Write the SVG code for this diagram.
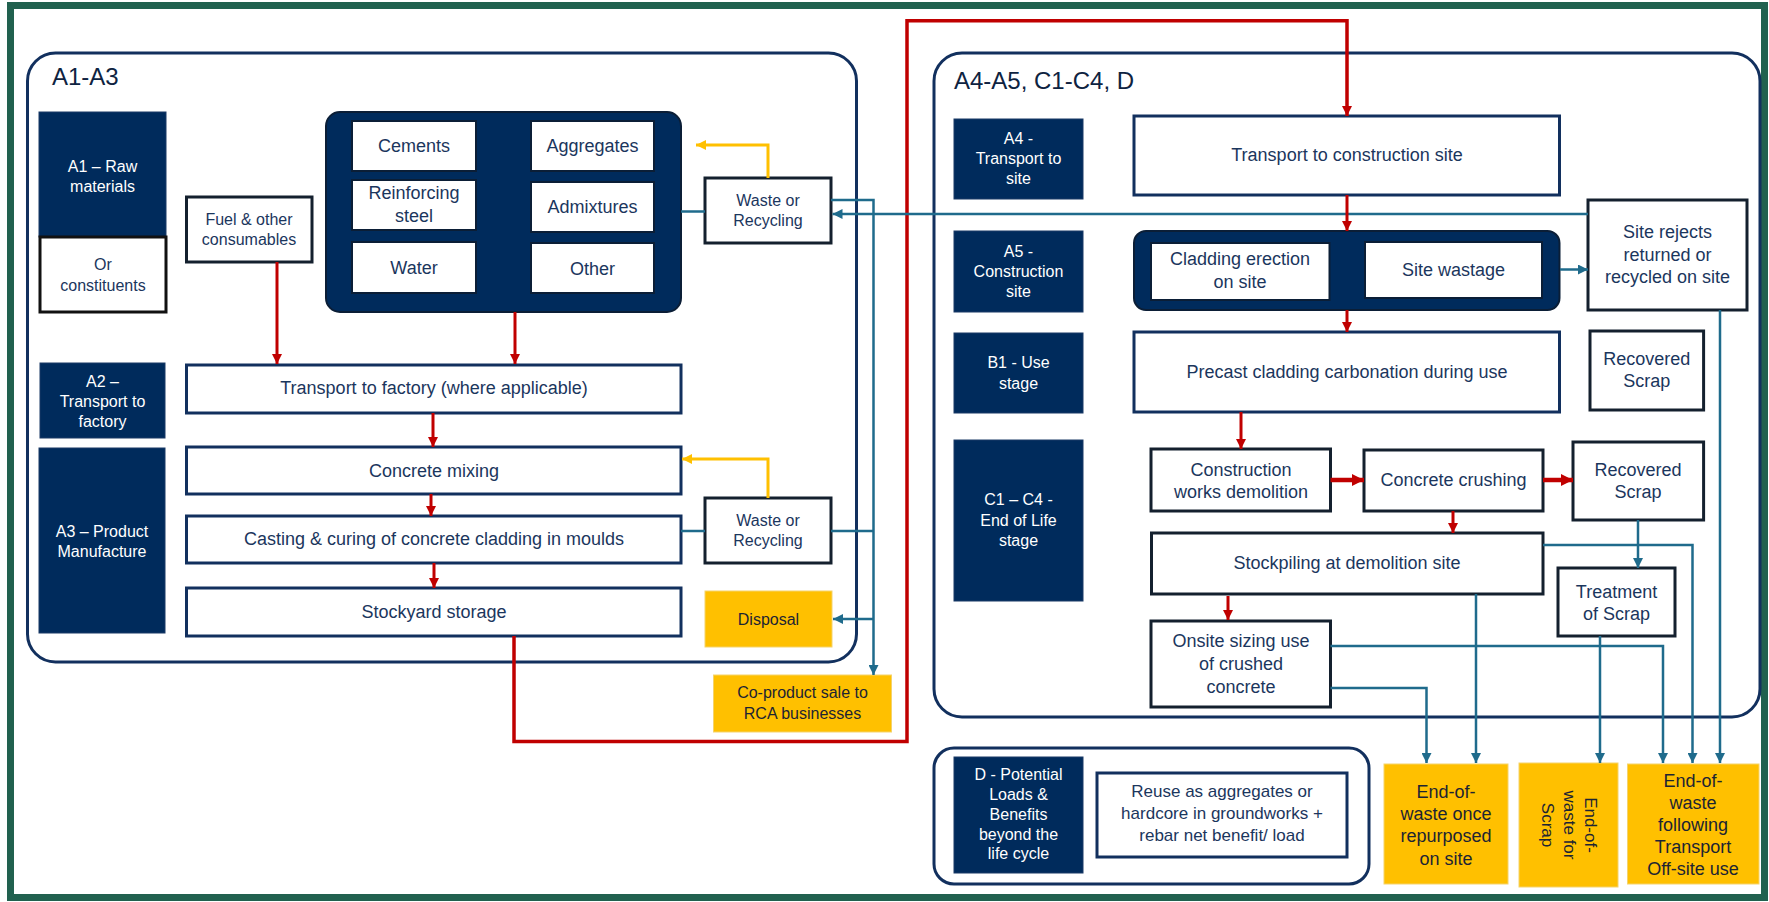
<svg xmlns="http://www.w3.org/2000/svg" width="1769" height="902" viewBox="0 0 1769 902">
<defs>
<style>
text{font-family:"Liberation Sans",Arial,sans-serif;text-anchor:middle}
.t{fill:#1B365D;font-size:18px}
.ts{fill:#1B365D;font-size:16px}
.tw{fill:#ffffff;font-size:16px}
.ty{fill:#1C2433;font-size:16px}
.tyl{fill:#1C2433;font-size:18px}
.title{fill:#0E2341;font-size:24px;text-anchor:start}
.lab{fill:#002B5C;stroke:#1B3A66;stroke-width:1}
.box{fill:#ffffff;stroke:#12305E;stroke-width:3}
.boxk{fill:#ffffff;stroke:#14202E;stroke-width:3}
.inner{fill:#ffffff;stroke:#0B1E36;stroke-width:2}
.grp{fill:#002B5C;stroke:#0B1E36;stroke-width:2}
.yel{fill:#FFC000;stroke:#F5D36B;stroke-width:1}
.cont{fill:none;stroke:#12305E;stroke-width:3}
.red{fill:none;stroke:#C00000;stroke-width:3}
.redk{fill:none;stroke:#C00000;stroke-width:3.5}
.redb{fill:none;stroke:#C00000;stroke-width:4.5}
.blu{fill:none;stroke:#1F6B8C;stroke-width:2.5}
.ylw{fill:none;stroke:#FFC000;stroke-width:3}
</style>
<marker id="mr" viewBox="0 0 10 10" refX="10" refY="5" markerWidth="10" markerHeight="10" markerUnits="userSpaceOnUse" orient="auto"><path d="M0,0 L10,5 L0,10 z" fill="#C00000"/></marker>
<marker id="mrb" viewBox="0 0 10 10" refX="10" refY="5" markerWidth="12" markerHeight="13" markerUnits="userSpaceOnUse" orient="auto"><path d="M0,0 L10,5 L0,10 z" fill="#C00000"/></marker>
<marker id="mb" viewBox="0 0 10 10" refX="10" refY="5" markerWidth="10" markerHeight="10" markerUnits="userSpaceOnUse" orient="auto"><path d="M0,0 L10,5 L0,10 z" fill="#1F6B8C"/></marker>
<marker id="my" viewBox="0 0 10 10" refX="10" refY="5" markerWidth="10" markerHeight="10" markerUnits="userSpaceOnUse" orient="auto"><path d="M0,0 L10,5 L0,10 z" fill="#FFC000"/></marker>
</defs>
<rect x="0" y="0" width="1769" height="902" fill="#ffffff"/>
<rect x="10.5" y="5.5" width="1754" height="892" fill="#ffffff" stroke="#21614F" stroke-width="7"/>

<g id="containers">
<rect x="27.5" y="53" width="829" height="609" rx="28" class="cont"/>
<text x="52" y="85" class="title">A1-A3</text>
<rect x="934" y="53" width="826" height="664" rx="28" class="cont"/>
<text x="954" y="89" class="title">A4-A5, C1-C4, D</text>
<rect x="934" y="748" width="435" height="136" rx="20" class="cont"/>
</g>

<g id="lab-a1"><rect x="39" y="112" width="127" height="125" class="lab"/><text class="tw" x="102.5" y="172">A1 – Raw</text><text class="tw" x="102.5" y="192">materials</text></g>
<g id="lab-or"><rect x="40" y="237" width="126" height="75" fill="#ffffff" stroke="#111111" stroke-width="3"/><text class="ts" x="103" y="270" fill="#111">Or</text><text class="ts" x="103" y="291">constituents</text></g>
<g id="lab-a2"><rect x="40" y="363" width="125" height="75" class="lab"/><text class="tw" x="102.5" y="387">A2 –</text><text class="tw" x="102.5" y="407">Transport to</text><text class="tw" x="102.5" y="427">factory</text></g>
<g id="lab-a3"><rect x="39" y="448" width="126" height="185" class="lab"/><text class="tw" x="102" y="537">A3 – Product</text><text class="tw" x="102" y="557">Manufacture</text></g>

<g id="fuel"><rect x="186.5" y="197" width="125.5" height="65" class="boxk"/><text class="ts" x="249" y="225">Fuel &amp; other</text><text class="ts" x="249" y="245">consumables</text></g>

<g id="materials">
<rect x="326" y="112" width="355" height="200" rx="14" class="grp"/>
<g id="cements"><rect x="352" y="121" width="124" height="50" class="inner"/><text class="t" x="414" y="152">Cements</text></g>
<g id="aggregates"><rect x="531" y="121" width="123" height="50" class="inner"/><text class="t" x="592.5" y="152">Aggregates</text></g>
<g id="steel"><rect x="352" y="180" width="124" height="50" class="inner"/><text class="t" x="414" y="199">Reinforcing</text><text class="t" x="414" y="222">steel</text></g>
<g id="admixtures"><rect x="531" y="182" width="123" height="50" class="inner"/><text class="t" x="592.5" y="213">Admixtures</text></g>
<g id="water"><rect x="352" y="242" width="124" height="51" class="inner"/><text class="t" x="414" y="274">Water</text></g>
<g id="other"><rect x="531" y="243" width="123" height="50" class="inner"/><text class="t" x="592.5" y="275">Other</text></g>
</g>

<g id="waste1"><rect x="705" y="178" width="126" height="65" class="boxk"/><text class="ts" x="768" y="206">Waste or</text><text class="ts" x="768" y="226">Recycling</text></g>
<g id="transport-factory"><rect x="186.5" y="365" width="494.5" height="48" class="box"/><text class="t" x="434" y="394">Transport to factory (where applicable)</text></g>
<g id="mixing"><rect x="186.5" y="447" width="494.5" height="47" class="box"/><text class="t" x="434" y="477">Concrete mixing</text></g>
<g id="casting"><rect x="186.5" y="516" width="494.5" height="47" class="box"/><text class="t" x="434" y="545">Casting &amp; curing of concrete cladding in moulds</text></g>
<g id="stockyard"><rect x="186.5" y="588" width="494.5" height="48" class="box"/><text class="t" x="434" y="618">Stockyard storage</text></g>
<g id="waste2"><rect x="705" y="498" width="126" height="65" class="boxk"/><text class="ts" x="768" y="526">Waste or</text><text class="ts" x="768" y="546">Recycling</text></g>
<g id="disposal"><rect x="705" y="591" width="127" height="56" class="yel"/><text class="ty" x="768.5" y="625">Disposal</text></g>
<g id="coproduct"><rect x="713.5" y="675" width="178" height="57" class="yel"/><text class="ty" x="802.5" y="698">Co-product sale to</text><text class="ty" x="802.5" y="719">RCA businesses</text></g>

<g id="lab-a4"><rect x="954" y="119" width="129" height="80" class="lab"/><text class="tw" x="1018.5" y="144">A4  -</text><text class="tw" x="1018.5" y="164">Transport to</text><text class="tw" x="1018.5" y="184">site</text></g>
<g id="lab-a5"><rect x="954" y="231" width="129" height="81" class="lab"/><text class="tw" x="1018.5" y="257">A5  -</text><text class="tw" x="1018.5" y="277">Construction</text><text class="tw" x="1018.5" y="297">site</text></g>
<g id="lab-b1"><rect x="954" y="333" width="129" height="80" class="lab"/><text class="tw" x="1018.5" y="368">B1  - Use</text><text class="tw" x="1018.5" y="389">stage</text></g>
<g id="lab-c"><rect x="954" y="440" width="129" height="161" class="lab"/><text class="tw" x="1018.5" y="505">C1 – C4  -</text><text class="tw" x="1018.5" y="526">End of Life</text><text class="tw" x="1018.5" y="546">stage</text></g>
<g id="lab-d"><rect x="954" y="757" width="129" height="116" class="lab"/><text class="tw" x="1018.5" y="780">D  - Potential</text><text class="tw" x="1018.5" y="800">Loads &amp;</text><text class="tw" x="1018.5" y="820">Benefits</text><text class="tw" x="1018.5" y="840">beyond the</text><text class="tw" x="1018.5" y="859">life cycle</text></g>

<g id="transport-site"><rect x="1134" y="116" width="425.5" height="79" class="box"/><text class="t" x="1347" y="161">Transport to construction site</text></g>
<g id="a5-group">
<rect x="1134" y="231" width="425.5" height="79" rx="12" class="grp"/>
<g id="cladding"><rect x="1151" y="243" width="178.5" height="57" class="inner"/><text class="t" x="1240" y="265">Cladding erection</text><text class="t" x="1240" y="288">on site</text></g>
<g id="wastage"><rect x="1365" y="242" width="177" height="56" class="inner"/><text class="t" x="1453.5" y="276">Site wastage</text></g>
</g>
<g id="site-rejects"><rect x="1588" y="200" width="159" height="110" class="boxk"/><text class="t" x="1667.5" y="238">Site rejects</text><text class="t" x="1667.5" y="261">returned or</text><text class="t" x="1667.5" y="283">recycled on site</text></g>
<g id="precast"><rect x="1134" y="332" width="425.5" height="80" class="box"/><text class="t" x="1347" y="378">Precast cladding carbonation during use</text></g>
<g id="recovered1"><rect x="1590" y="331" width="113.6" height="79" class="boxk"/><text class="t" x="1646.8" y="365">Recovered</text><text class="t" x="1646.8" y="387">Scrap</text></g>
<g id="demolition"><rect x="1151" y="449" width="179.5" height="62" class="boxk"/><text class="t" x="1241" y="476">Construction</text><text class="t" x="1241" y="498">works demolition</text></g>
<g id="crushing"><rect x="1364" y="450" width="179" height="61" class="boxk"/><text class="t" x="1453.5" y="486">Concrete crushing</text></g>
<g id="recovered2"><rect x="1573" y="442" width="130.6" height="78" class="boxk"/><text class="t" x="1638" y="476">Recovered</text><text class="t" x="1638" y="498">Scrap</text></g>
<g id="stockpiling"><rect x="1151.5" y="533" width="391.5" height="61" class="boxk"/><text class="t" x="1347" y="569">Stockpiling at demolition site</text></g>
<g id="onsite"><rect x="1151" y="621" width="179.5" height="86" class="boxk"/><text class="t" x="1241" y="647">Onsite sizing use</text><text class="t" x="1241" y="670">of crushed</text><text class="t" x="1241" y="693">concrete</text></g>
<g id="treatment"><rect x="1558" y="568" width="117" height="68" class="boxk"/><text class="t" x="1616.5" y="598">Treatment</text><text class="t" x="1616.5" y="620">of Scrap</text></g>
<g id="reuse"><rect x="1097" y="773" width="250" height="84" class="box"/><text class="ts" x="1222" y="797" style="font-size:17px">Reuse as aggregates or</text><text class="ts" x="1222" y="819" style="font-size:17px">hardcore in groundworks +</text><text class="ts" x="1222" y="841" style="font-size:17px">rebar net benefit/ load</text></g>
<g id="eow-repurposed"><rect x="1384" y="764" width="124" height="120" class="yel"/><text class="tyl" x="1446" y="798">End-of-</text><text class="tyl" x="1446" y="820">waste once</text><text class="tyl" x="1446" y="842">repurposed</text><text class="tyl" x="1446" y="865">on site</text></g>
<g id="eow-scrap"><rect x="1519" y="763" width="99" height="124" class="yel"/>
<text class="ty" style="font-size:17px" transform="translate(1585,825) rotate(90)">End-of-</text>
<text class="ty" style="font-size:17px" transform="translate(1563.5,825) rotate(90)">waste for</text>
<text class="ty" style="font-size:17px" transform="translate(1542,825) rotate(90)">Scrap</text></g>
<g id="eow-following"><rect x="1627.5" y="764" width="131.5" height="120" class="yel"/><text class="tyl" x="1693" y="787">End-of-</text><text class="tyl" x="1693" y="809">waste</text><text class="tyl" x="1693" y="831">following</text><text class="tyl" x="1693" y="853">Transport</text><text class="tyl" x="1693" y="875">Off-site use</text></g>

<g id="connectors">
<path class="red" d="M277,262 V364" marker-end="url(#mr)"/>
<path class="red" d="M515,312 V364" marker-end="url(#mr)"/>
<path class="red" d="M433,413 V447" marker-end="url(#mr)"/>
<path class="red" d="M431,494 V516" marker-end="url(#mr)"/>
<path class="red" d="M434,563 V588" marker-end="url(#mr)"/>
<path class="redk" d="M514,636 V741.5 H907 V20.7 H1347 V116" marker-end="url(#mr)"/>
<path class="ylw" d="M768,178 V145 H696" marker-end="url(#my)"/>
<path class="ylw" d="M768,498 V459 H682" marker-end="url(#my)"/>
<path class="blu" d="M681,211.5 H705"/>
<path class="blu" d="M681,531 H705"/>
<path class="blu" d="M831,200 H873.5 V675" marker-end="url(#mb)"/>
<path class="blu" d="M831,531 H873.5"/>
<path class="blu" d="M873.5,619 H833" marker-end="url(#mb)"/>
<path class="blu" d="M1588,214 H832.5" marker-end="url(#mb)"/>
<path class="red" d="M1347,195 V231" marker-end="url(#mr)"/>
<path class="red" d="M1347,310 V332" marker-end="url(#mr)"/>
<path class="blu" d="M1560,269.5 H1588" marker-end="url(#mb)"/>
<path class="red" d="M1241,412 V449" marker-end="url(#mr)"/>
<path class="redb" d="M1330.5,480 H1364" marker-end="url(#mrb)"/>
<path class="redb" d="M1543,480 H1573" marker-end="url(#mrb)"/>
<path class="red" d="M1453,511 V533" marker-end="url(#mr)"/>
<path class="red" d="M1228,596 V620" marker-end="url(#mr)"/>
<path class="blu" d="M1638,520 V568" marker-end="url(#mb)"/>
<path class="blu" d="M1543,545 H1692.5 V763" marker-end="url(#mb)"/>
<path class="blu" d="M1476,594 V763" marker-end="url(#mb)"/>
<path class="blu" d="M1330.5,646 H1663 V763" marker-end="url(#mb)"/>
<path class="blu" d="M1330.5,688 H1426.5 V763" marker-end="url(#mb)"/>
<path class="blu" d="M1600,636 V763" marker-end="url(#mb)"/>
<path class="blu" d="M1720,310 V763" marker-end="url(#mb)"/>
</g>
</svg>
